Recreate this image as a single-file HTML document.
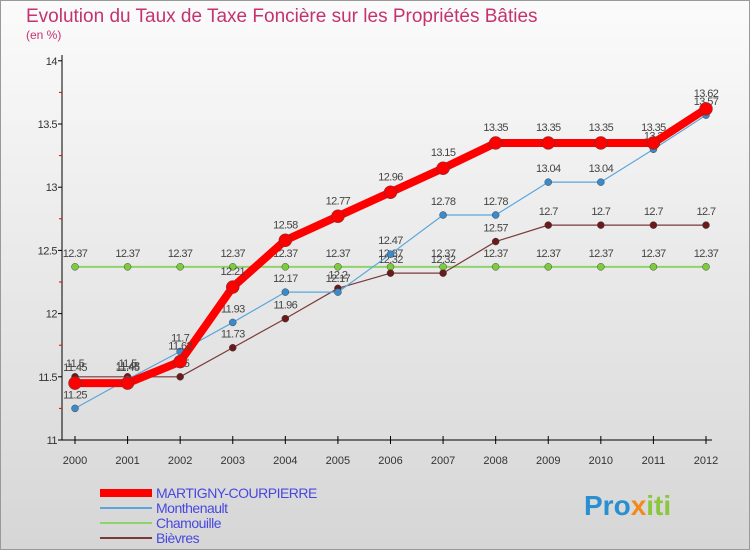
<!DOCTYPE html>
<html><head><meta charset="utf-8"><style>
body{margin:0;width:750px;height:550px;overflow:hidden;font-family:"Liberation Sans","DejaVu Sans",sans-serif}
</style></head><body>
<svg id="c" width="750" height="550" xmlns="http://www.w3.org/2000/svg">
<defs><linearGradient id="bg" x1="0" y1="0" x2="0" y2="1"><stop offset="0" stop-color="#fbfbfb"/><stop offset="1" stop-color="#d6d6d6"/></linearGradient></defs>
<rect x="0.5" y="0.5" width="749" height="549" fill="url(#bg)" stroke="#999"/>
<text x="26" y="22" font-size="19" fill="#c4336f">Evolution du Taux de Taxe Foncière sur les Propriétés Bâties</text>
<text x="26" y="39" font-size="12" fill="#c4336f">(en %)</text>
<g id="axes"></g><g id="series"></g><g id="legend"></g>
<text x="584" y="515" font-size="28" font-weight="bold" fill="#2a8fd0">Pro<tspan fill="#f08a1c">x</tspan><tspan fill="#8cc63f">iti</tspan></text>
</svg>
<script>
const years=["2000","2001","2002","2003","2004","2005","2006","2007","2008","2009","2010","2011","2012"];
const yTicks=[11,11.5,12,12.5,13,13.5,14];
const martigny=[11.45,11.45,11.62,12.21,12.58,12.77,12.96,13.15,13.35,13.35,13.35,13.35,13.62];
const monthenault=[11.25,11.48,11.7,11.93,12.17,12.17,12.47,12.78,12.78,13.04,13.04,13.3,13.57];
const chamouille=[12.37,12.37,12.37,12.37,12.37,12.37,12.37,12.37,12.37,12.37,12.37,12.37,12.37];
const bievres=[11.5,11.5,11.5,11.73,11.96,12.2,12.32,12.32,12.57,12.7,12.7,12.7,12.7];
const seriesNames=["MARTIGNY-COURPIERRE","Monthenault","Chamouille","Bièvres"];
const NS="http://www.w3.org/2000/svg";
const X=i=>75+i*(631/12);
const Y=v=>440-(v-11)*126.4;
function mk(t,a,p){const e=document.createElementNS(NS,t);for(const k in a)e.setAttribute(k,a[k]);p.appendChild(e);return e;}
const axes=document.getElementById('axes');
let l=mk('line',{x1:62,y1:55,x2:62,y2:440,stroke:'#000'},axes);


l=mk('line',{x1:62,y1:440,x2:712,y2:440,stroke:'#000'},axes);


yTicks.forEach((v,i)=>{
  mk('line',{x1:58,y1:Y(v),x2:62,y2:Y(v),stroke:'#000'},axes);
  if(i<yTicks.length-1) mk('line',{x1:59,y1:Y(v+0.25),x2:62,y2:Y(v+0.25),stroke:'#e00'},axes);
  const t=mk('text',{x:57,y:Y(v)+4,'font-size':11,'text-anchor':'end',fill:'#333','letter-spacing':'-0.5'},axes);
  t.textContent=String(v);
  
  
});
years.forEach((y,i)=>{
  mk('line',{x1:X(i),y1:436,x2:X(i),y2:444,stroke:'#000'},axes);
  const t=mk('text',{x:X(i),y:464,'font-size':11,'text-anchor':'middle',fill:'#333'},axes);
  t.textContent=y;
  
  
});
const sg=document.getElementById('series');
function draw(vals,name,color,w,r,dot,labelDy){
  const g=mk('g',{},sg);
  
  
  const pl=mk('polyline',{points:vals.map((v,i)=>X(i)+','+Y(v)).join(' '),fill:'none',stroke:color,'stroke-width':w,'stroke-linejoin':'round'},g);
  
  
  vals.forEach((v,i)=>{
    const c=mk('circle',{cx:X(i),cy:Y(v),r:r,fill:dot,stroke:'#444','stroke-width':0.5},g);
    
    
    const t=mk('text',{x:X(i),y:Y(v)+labelDy,'font-size':11,'text-anchor':'middle',fill:'#444','letter-spacing':'-0.6'},g);
    t.textContent=String(v);
    
    
  });
}
draw(chamouille,'chamouille','#8fd46a',2,3.5,'#7ccc3c',-10);
draw(bievres,'bievres','#7a3a3a',1.2,3.5,'#6a1a1a',-10);
draw(monthenault,'monthenault','#5aa6dc',1.2,3.5,'#3a8acc',-10);
draw(martigny,'martigny','#ff0000',8,6.5,'#f00',-12);
const lg=document.getElementById('legend');
const lc=['#ff0000','#5aa6dc','#8fd46a','#7a3a3a'],lw=[8,2,2,2];
seriesNames.forEach((n,i)=>{
  const y=493+i*15;
  mk('line',{x1:100,y1:y,x2:152,y2:y,stroke:lc[i],'stroke-width':lw[i]},lg);
  const t=mk('text',{x:156,y:y+5,'font-size':14,fill:'#4848e0','letter-spacing':'-0.5'},lg);
  t.textContent=n;
  
  
});
</script>
</body></html>
